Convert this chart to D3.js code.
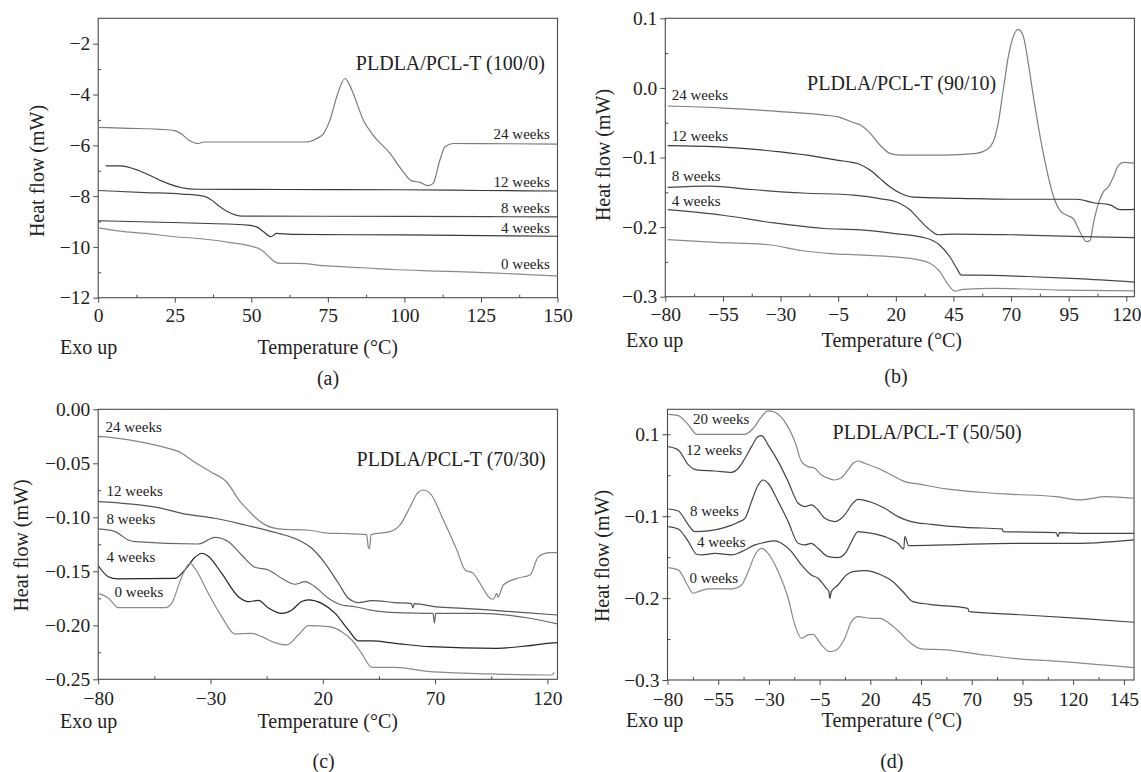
<!DOCTYPE html>
<html>
<head>
<meta charset="utf-8">
<script src="https://cdn.jsdelivr.net/npm/d3@7"></script>
<style>
  body { margin: 0; background: #fff; }
  svg { display: block; }
</style>
</head>
<body>
<div id="chart"></div>
<script>
// ---- (a) PLDLA/PCL-T (100/0) ----
const weeksA = ["24 weeks", "12 weeks", "8 weeks", "4 weeks", "0 weeks"];
const a24 = [[0,-5.30],[10,-5.33],[20,-5.37],[25,-5.42],[27,-5.54],[29.7,-5.8],[32.7,-5.93],[34.4,-5.87],[50,-5.87],[67.7,-5.87],[71.3,-5.74],[73.6,-5.54],[75.7,-5.0],[77.9,-4.09],[80.6,-3.37],[82,-3.6],[83.3,-3.96],[86.6,-5.01],[89.8,-5.6],[95.3,-6.32],[99.6,-7.04],[102.4,-7.4],[105.1,-7.46],[107.8,-7.59],[109.4,-7.5],[111.6,-6.58],[113.3,-6.06],[116,-5.93],[150,-5.95]];
const a12 = [[2.4,-6.81],[7.1,-6.81],[13,-6.98],[17.8,-7.24],[22.6,-7.5],[27.3,-7.67],[32,-7.73],[60,-7.74],[98.6,-7.75],[125,-7.78],[150,-7.8]];
const a8 = [[0,-7.78],[15.4,-7.86],[27.3,-7.92],[34.4,-8.0],[37,-8.15],[39,-8.35],[42,-8.6],[45,-8.75],[47,-8.79],[51,-8.79],[100,-8.8],[150,-8.82]];
const a4 = [[0,-8.97],[27.3,-9.05],[48.7,-9.14],[51.7,-9.21],[54,-9.4],[56.4,-9.6],[58.2,-9.47],[63,-9.51],[100,-9.53],[150,-9.58]];
const a0 = [[0,-9.25],[7.1,-9.38],[15.4,-9.47],[25,-9.6],[34.4,-9.69],[43.9,-9.84],[49.9,-9.97],[53.4,-10.13],[55.8,-10.39],[57.6,-10.58],[59.4,-10.65],[65.3,-10.65],[74.8,-10.75],[86.7,-10.82],[96.2,-10.89],[110.4,-10.95],[128.3,-11.02],[150,-11.15]];
const xTicksA = [0, 25, 50, 75, 100, 125, 150];
const yTicksA = [-2, -4, -6, -8, -10, -12];

// ---- (b) PLDLA/PCL-T (90/10) ----
const weeksB = ["24 weeks", "12 weeks", "8 weeks", "4 weeks", "0 weeks"];
const b24 = [[-79,-0.026],[-55,-0.029],[-30,-0.034],[-11,-0.039],[-4.6,-0.042],[1.7,-0.05],[4.5,-0.053],[8.8,-0.065],[13.1,-0.082],[17.4,-0.094],[21.8,-0.0965],[40.6,-0.0965],[55,-0.094],[59.4,-0.089],[62.3,-0.077],[64.4,-0.051],[66.6,-0.003],[68.8,0.045],[71,0.074],[73.1,0.084],[75.3,0.074],[77.5,0.035],[79.7,-0.013],[82.6,-0.07],[85.5,-0.118],[88.4,-0.156],[91.2,-0.176],[94.1,-0.183],[97,-0.188],[99.9,-0.207],[102.8,-0.221],[104.3,-0.219],[105.7,-0.195],[107.9,-0.166],[110.1,-0.149],[112.2,-0.142],[114.4,-0.128],[116.6,-0.111],[118.8,-0.107],[123.5,-0.108]];
const b12 = [[-79,-0.083],[-55,-0.085],[-30,-0.092],[-14,-0.099],[-5,-0.104],[1,-0.107],[4.5,-0.110],[8.8,-0.118],[13.1,-0.13],[17.4,-0.142],[21.8,-0.151],[27.6,-0.157],[47.8,-0.1586],[69.5,-0.160],[98.5,-0.160],[105.7,-0.165],[112.9,-0.168],[117.3,-0.175],[123.5,-0.1745]];
const b8 = [[-79,-0.143],[-61,-0.141],[-42.5,-0.146],[-20.4,-0.151],[1.7,-0.154],[13.1,-0.159],[21.8,-0.166],[26.1,-0.175],[30.4,-0.19],[34.8,-0.204],[38.4,-0.211],[44.9,-0.21],[69.5,-0.211],[105.7,-0.214],[123.5,-0.215]];
const b4 = [[-79,-0.175],[-55,-0.183],[-33,-0.194],[-11,-0.202],[4.5,-0.204],[18.9,-0.209],[33.3,-0.216],[39.1,-0.226],[43.5,-0.243],[46.4,-0.259],[48.5,-0.269],[55.1,-0.269],[76.8,-0.271],[98.5,-0.274],[123.5,-0.279]];
const b0 = [[-79,-0.218],[-58,-0.222],[-36,-0.225],[-20.4,-0.234],[-8,-0.238],[4.5,-0.240],[26.1,-0.245],[34.8,-0.252],[39.1,-0.264],[42.8,-0.283],[45.7,-0.292],[49.3,-0.2895],[62.3,-0.288],[91.2,-0.2905],[123.5,-0.2915]];
const xTicksB = [-80, -55, -30, -5, 20, 45, 70, 95, 120];
const yTicksB = [0.1, 0.0, -0.1, -0.2, -0.3];

// ---- (c) PLDLA/PCL-T (70/30) ----
const weeksC = ["24 weeks", "12 weeks", "8 weeks", "4 weeks", "0 weeks"];
const c24 = [[-79.5,-0.025],[-67,-0.028],[-50.8,-0.035],[-44.4,-0.039],[-36.3,-0.05],[-29.8,-0.058],[-22.5,-0.068],[-17,-0.085],[-13,-0.094],[-9,-0.102],[-5.6,-0.107],[1.7,-0.111],[13.9,-0.112],[23.2,-0.1148],[30,-0.115],[39.5,-0.116],[40.3,-0.128],[40.8,-0.129],[41.5,-0.116],[49.95,-0.1133],[54.4,-0.1071],[58.9,-0.0902],[62,-0.078],[64.8,-0.0747],[67.8,-0.0778],[73.7,-0.1025],[79.7,-0.1303],[83.4,-0.1488],[87,-0.1519],[90,-0.1611],[94.5,-0.175],[95.9,-0.1759],[97.5,-0.1704],[97.9,-0.174],[100.4,-0.1627],[106.4,-0.1565],[112.3,-0.1534],[116,-0.1365],[121.2,-0.1327],[124.5,-0.1327]];
const c12 = [[-79.9,-0.0855],[-66.6,-0.0875],[-51.7,-0.0917],[-42.8,-0.0963],[-28,-0.1009],[-14.6,-0.1071],[0.2,-0.1148],[9.1,-0.121],[15.1,-0.1287],[21,-0.1426],[27,-0.1611],[31.4,-0.175],[35.9,-0.179],[41.8,-0.1772],[52.2,-0.179],[59.5,-0.180],[60.1,-0.184],[60.7,-0.180],[70.6,-0.183],[82.6,-0.1843],[94.9,-0.186],[124.5,-0.1905]];
const c8 = [[-79.9,-0.1108],[-72.5,-0.1132],[-66.6,-0.121],[-63.6,-0.1226],[-35.4,-0.1247],[-28,-0.1185],[-22,-0.1226],[-16.1,-0.1349],[-10.2,-0.1463],[-4.2,-0.1488],[1.7,-0.1565],[7.6,-0.162],[12.1,-0.1596],[16.5,-0.1643],[22.5,-0.175],[28.4,-0.1812],[34.3,-0.1828],[43.3,-0.1867],[52.9,-0.1883],[69.1,-0.189],[69.7,-0.198],[70.3,-0.189],[90,-0.1889],[112.3,-0.1935],[124.5,-0.1987]];
const c4 = [[-79.9,-0.1451],[-75.5,-0.155],[-71.5,-0.157],[-45.8,-0.1565],[-41.4,-0.1488],[-36.9,-0.137],[-33.9,-0.1333],[-31,-0.136],[-25,-0.1519],[-17.6,-0.1735],[-13.1,-0.178],[-8.7,-0.177],[-4.2,-0.184],[1.7,-0.189],[6.1,-0.186],[10.6,-0.178],[13.6,-0.1765],[19.5,-0.1797],[25.5,-0.189],[31.4,-0.2043],[35.9,-0.2145],[41.8,-0.2145],[52.2,-0.2167],[67.8,-0.2198],[97.5,-0.2213],[111,-0.219],[119,-0.217],[124.5,-0.216]];
const c0 = [[-79.9,-0.1704],[-75.5,-0.1747],[-71,-0.1837],[-50.2,-0.1837],[-47.3,-0.1797],[-42.8,-0.155],[-39.1,-0.1426],[-36.9,-0.1473],[-31,-0.1704],[-25,-0.192],[-19.1,-0.208],[-11.7,-0.2074],[-7.2,-0.2105],[-1.3,-0.2161],[3.9,-0.2182],[9.1,-0.209],[13.6,-0.2003],[22.5,-0.2013],[28.4,-0.2059],[32.9,-0.2136],[37.3,-0.2259],[41.8,-0.2389],[47.7,-0.239],[52.2,-0.2389],[67.8,-0.2429],[94.9,-0.245],[119,-0.246],[122,-0.246],[123,-0.2435]];
const xTicksC = [-80, -30, 20, 70, 120];
const yTicksC = [0, -0.05, -0.10, -0.15, -0.20, -0.25];

// ---- (d) PLDLA/PCL-T (50/50) ----
const weeksD = ["20 weeks", "12 weeks", "8 weeks", "4 weeks", "0 weeks"];
const d20 = [[-79.6,0.0244],[-74.7,0.0228],[-69.7,0.0114],[-65.6,0],[-41.8,0],[-37.7,0.0073],[-33.6,0.0216],[-30.4,0.0285],[-27.1,0.0269],[-22.2,0.0155],[-17.2,-0.009],[-13.9,-0.0334],[-10.7,-0.0395],[-7.4,-0.0415],[-4.1,-0.0497],[-0.8,-0.0537],[2.5,-0.0558],[5.8,-0.0529],[9,-0.0435],[11.5,-0.0354],[14,-0.0326],[17.2,-0.0354],[23.8,-0.0415],[30.4,-0.0497],[37,-0.0578],[43.5,-0.0606],[57.4,-0.0667],[73.8,-0.0708],[90.2,-0.0733],[111.6,-0.0761],[123.1,-0.0802],[126.4,-0.0794],[136.2,-0.0761],[150,-0.0781]];
const d12 = [[-79.6,-0.0151],[-74.7,-0.0191],[-69.7,-0.0374],[-65.6,-0.0435],[-56.6,-0.0448],[-48.4,-0.0464],[-45.1,-0.0415],[-41.8,-0.0293],[-38.6,-0.0151],[-35.3,-0.0028],[-33.6,-0.0016],[-30.4,-0.013],[-25.4,-0.0334],[-20.5,-0.0578],[-15.6,-0.0842],[-12.3,-0.0883],[-9.1,-0.0863],[-5.8,-0.0924],[-2.5,-0.1026],[2.5,-0.1066],[7.4,-0.0985],[10.7,-0.0863],[14,-0.0794],[20.5,-0.083],[27.1,-0.0904],[33.6,-0.1005],[40.2,-0.1066],[50,-0.1099],[66.5,-0.1136],[85,-0.1156],[85.5,-0.1188],[111.6,-0.12],[112.5,-0.125],[113.2,-0.12],[123.1,-0.1209],[150,-0.1209]];
const d8 = [[-79.6,-0.0912],[-74.7,-0.0936],[-69.7,-0.1107],[-66.5,-0.1188],[-59.9,-0.118],[-52,-0.114],[-45.1,-0.1074],[-41.8,-0.1026],[-38.6,-0.0822],[-35.3,-0.0619],[-32.8,-0.0558],[-30.4,-0.0598],[-25.4,-0.0822],[-20.5,-0.1066],[-15.6,-0.1331],[-12.3,-0.1351],[-9.1,-0.1331],[-5.8,-0.1392],[-0.8,-0.1494],[4.1,-0.1506],[8.2,-0.1433],[10.7,-0.1311],[14,-0.1188],[20.5,-0.1209],[27.1,-0.125],[33.6,-0.1331],[36.5,-0.14],[37,-0.125],[38.9,-0.1359],[57.4,-0.1351],[90.2,-0.1331],[123.1,-0.1331],[150,-0.129]];
const d4 = [[-79.6,-0.1127],[-74.7,-0.1156],[-69.7,-0.131],[-65.6,-0.1465],[-63.1,-0.1473],[-56.6,-0.1453],[-48.4,-0.1473],[-43.5,-0.1433],[-36.9,-0.1351],[-32,-0.1319],[-27.1,-0.1302],[-23.8,-0.1331],[-18.9,-0.1433],[-14,-0.1595],[-9.1,-0.1718],[-5.8,-0.1758],[-1.7,-0.188],[-0.4,-0.192],[0,-0.2002],[0.8,-0.1921],[4.1,-0.184],[8.2,-0.1718],[11.5,-0.1677],[17.2,-0.1665],[25.4,-0.1718],[31.2,-0.180],[36,-0.192],[41,-0.2043],[49.2,-0.2076],[68.1,-0.2125],[68.6,-0.2165],[90.2,-0.2198],[123.1,-0.2247],[150,-0.2295]];
const d0 = [[-79.6,-0.1628],[-74.7,-0.1656],[-69.7,-0.186],[-67.3,-0.1941],[-64.8,-0.1921],[-59.9,-0.1888],[-48.4,-0.1888],[-43.5,-0.184],[-40.2,-0.1677],[-36.9,-0.1473],[-33.6,-0.1392],[-30.4,-0.1453],[-25.4,-0.1677],[-20.5,-0.2002],[-17.2,-0.2328],[-14,-0.2491],[-10.7,-0.245],[-8.3,-0.2442],[-4.1,-0.2572],[0,-0.2654],[3.3,-0.2633],[7.4,-0.2491],[10.7,-0.2287],[14,-0.2226],[20.5,-0.2247],[24.6,-0.2247],[30.4,-0.2328],[35,-0.243],[39.4,-0.254],[45.2,-0.2621],[57.4,-0.2633],[73.8,-0.2686],[90.2,-0.2735],[114.8,-0.2776],[150,-0.2849]];
const xTicksD = [-80, -55, -30, -5, 20, 45, 70, 95, 120, 145];
const yTicksD = [0, -0.1, -0.2, -0.3];
const yTickLabelsD = ["0.1", "\u22120.1", "\u22120.2", "\u22120.3"];

const minus = s => s.replace("-", "\u2212");

const panels = [
  {
    title: "PLDLA/PCL-T (100/0)", caption: "(a)", titleAnchor: "end", titleAt: [145.9, -3.02],
    box: {left: 98.2, top: 18.3, right: 557.5, bottom: 297.7},
    xDomain: [0, 150], yDomain: [-12, -1],
    xTicks: xTicksA, yTicks: yTicksA, yFormat: d => minus(String(d)),
    xMinor: d3.range(12.5, 150, 25), yMinor: d3.range(-11, -1, 2),
    series: [a24, a12, a8, a4, a0], names: weeksA,
    colors: ["#7a7a7a", "#3a3a3a", "#474747", "#3a3a3a", "#8a8a8a"],
    labelAnchor: "end",
    labelAt: [[147.5,-5.745],[147.5,-7.633],[147.5,-8.68],[147.5,-9.467],[147.5,-10.883]],
    yLabelPos: [37, 171], exoPos: [60, 354], tempPos: [257.5, 354], capPos: [328, 385], xPad: 5
  },
  {
    title: "PLDLA/PCL-T (90/10)", caption: "(b)", titleAnchor: "start", titleAt: [-18.5, -0.0037],
    box: {left: 665.3, top: 18.3, right: 1134.4, bottom: 296.7},
    xDomain: [-80, 123.5], yDomain: [-0.3, 0.1],
    xTicks: xTicksB, yTicks: yTicksB, yFormat: d => minus(d3.format(".1f")(d)),
    xMinor: d3.range(-67.5, 123, 25), yMinor: d3.range(-0.25, 0.1, 0.1),
    series: [b24, b12, b8, b4, b0], names: weeksB,
    colors: ["#7e7e7e", "#3a3a3a", "#474747", "#474747", "#8a8a8a"],
    labelAnchor: "start",
    labelAt: [[-77.2,-0.0174],[-77.2,-0.0759],[-77.2,-0.1333],[-77.2,-0.1693]],
    yLabelPos: [603, 155], exoPos: [626, 347], tempPos: [821.6, 347], capPos: [896, 383], xPad: 5
  },
  {
    title: "PLDLA/PCL-T (70/30)", caption: "(c)", titleAnchor: "end", titleAt: [119.2, -0.0525],
    box: {left: 98.2, top: 409.3, right: 557.5, bottom: 679.3},
    xDomain: [-80, 124.5], yDomain: [-0.25, 0],
    xTicks: xTicksC, yTicks: yTicksC, yFormat: d => minus(d3.format(".2f")(d)),
    xMinor: d3.range(-55, 124, 50), yMinor: d3.range(-0.225, 0, 0.05),
    series: [c24, c12, c8, c4, c0], names: weeksC,
    colors: ["#858585", "#555555", "#666666", "#262626", "#8a8a8a"],
    labelAnchor: "start",
    labelAt: [[-76.75,-0.0213],[-76.3,-0.0803],[-76.3,-0.1062],[-76.3,-0.1414],[-72.7,-0.1735]],
    yLabelPos: [21, 545.5], exoPos: [60, 728], tempPos: [257.5, 728], capPos: [323.6, 767.5], xPad: 7
  },
  {
    title: "PLDLA/PCL-T (50/50)", caption: "(d)", titleAnchor: "start", titleAt: [1.4, -0.0057],
    box: {left: 667.5, top: 409.3, right: 1134, bottom: 680},
    xDomain: [-80, 150], yDomain: [-0.3, 0.0305],
    xTicks: xTicksD, yTicks: yTicksD, yFormat: (d, i) => yTickLabelsD[i],
    xMinor: d3.range(-67.5, 150, 25), yMinor: d3.range(-0.25, 0.03, 0.05),
    series: [d20, d12, d8, d4, d0], names: weeksD,
    colors: ["#858585", "#444444", "#444444", "#444444", "#8a8a8a"],
    labelAnchor: "start",
    labelAt: [[-67.4,0.012],[-70.9,-0.0247],[-68.9,-0.0998],[-65.5,-0.1372],[-69.2,-0.182]],
    yLabelPos: [602, 556], exoPos: [626, 727], tempPos: [821.6, 727], capPos: [891.8, 768], xPad: 7
  }
];

const serif = "'Liberation Serif', 'Times New Roman', 'DejaVu Serif', serif";

const svg = d3.select("#chart")
    .append("svg")
    .attr("width", 1141)
    .attr("height", 772)
    .attr("font-family", serif);

const ink = "#222";
const frameColor = "#4a4a4a";

function drawPanel(p) {
  const {left, top, right, bottom} = p.box;
  const x = d3.scaleLinear().domain(p.xDomain).range([left, right]);
  const y = d3.scaleLinear().domain(p.yDomain).range([bottom, top]);
  const g = svg.append("g");

  // axes: major ticks point out, minor ticks point in
  const styleAxis = sel => {
    sel.select(".domain").remove();
    sel.attr("font-family", serif).attr("font-size", 19.5);
    sel.selectAll("line").attr("stroke", frameColor);
    sel.selectAll("text").attr("fill", ink);
  };
  g.append("g")
      .attr("transform", `translate(0,${bottom})`)
      .call(d3.axisBottom(x).tickValues(p.xTicks).tickSize(5).tickPadding(p.xPad)
          .tickFormat(d => minus(String(d))))
      .call(styleAxis);
  g.append("g")
      .attr("transform", `translate(${left},0)`)
      .call(d3.axisLeft(y).tickValues(p.yTicks).tickSize(5).tickPadding(3).tickFormat(p.yFormat))
      .call(styleAxis);
  g.append("g")
      .attr("transform", `translate(0,${bottom})`)
      .call(d3.axisBottom(x).tickValues(p.xMinor).tickSize(-3).tickFormat(""))
      .call(styleAxis);
  g.append("g")
      .attr("transform", `translate(${left},0)`)
      .call(d3.axisLeft(y).tickValues(p.yMinor).tickSize(-3).tickFormat(""))
      .call(styleAxis);

  g.append("rect")
      .attr("x", left).attr("y", top)
      .attr("width", right - left).attr("height", bottom - top)
      .attr("fill", "none")
      .attr("stroke", frameColor)
      .attr("stroke-width", 1.1);

  const line = d3.line()
      .x(d => x(d[0]))
      .y(d => y(d[1]))
      .curve(d3.curveMonotoneX);

  g.append("g")
      .attr("fill", "none")
      .attr("stroke-width", 1.2)
      .attr("stroke-linejoin", "round")
      .selectAll("path")
      .data(p.series)
      .join("path")
      .attr("stroke", (d, i) => p.colors[i])
      .attr("d", line);

  // week labels
  g.append("g")
      .attr("font-size", 15)
      .attr("fill", ink)
      .attr("text-anchor", p.labelAnchor)
      .selectAll("text")
      .data(p.labelAt)
      .join("text")
      .attr("x", d => x(d[0]))
      .attr("y", d => y(d[1]))
      .text((d, i) => p.names[i]);

  g.append("text")
      .attr("x", x(p.titleAt[0]))
      .attr("y", y(p.titleAt[1]))
      .attr("text-anchor", p.titleAnchor)
      .attr("font-size", 20)
      .attr("fill", ink)
      .text(p.title);

  g.append("text")
      .attr("transform", `translate(${p.yLabelPos[0]},${p.yLabelPos[1]}) rotate(-90)`)
      .attr("text-anchor", "middle")
      .attr("dominant-baseline", "central")
      .attr("font-size", 20)
      .attr("fill", ink)
      .text("Heat flow (mW)");

  g.append("text")
      .attr("x", p.exoPos[0]).attr("y", p.exoPos[1])
      .attr("font-size", 20).attr("fill", ink)
      .text("Exo up");

  g.append("text")
      .attr("x", p.tempPos[0]).attr("y", p.tempPos[1])
      .attr("font-size", 20).attr("fill", ink)
      .text("Temperature (\u00B0C)");

  g.append("text")
      .attr("x", p.capPos[0]).attr("y", p.capPos[1])
      .attr("text-anchor", "middle")
      .attr("font-size", 20).attr("fill", ink)
      .text(p.caption);
}

panels.forEach(drawPanel);
</script>
</body>
</html>
